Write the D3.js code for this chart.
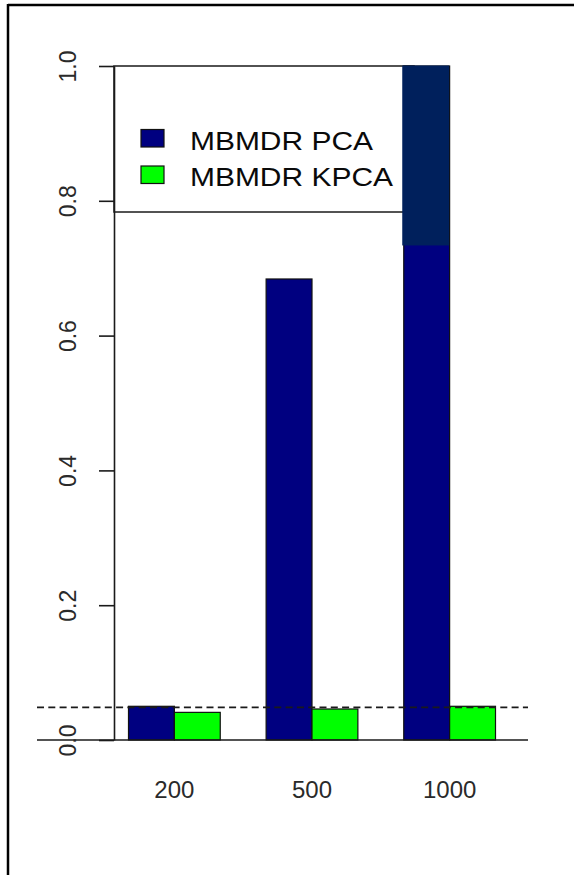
<!DOCTYPE html>
<html>
<head>
<meta charset="utf-8">
<script src="https://cdn.jsdelivr.net/npm/d3@7"></script>
<style>
  html, body { margin: 0; padding: 0; background: #fff; }
  svg { display: block; }
  text { font-family: "Liberation Sans", Arial, sans-serif; }
</style>
</head>
<body>
<svg id="chart" width="574" height="875"></svg>
<script>
// ---- data ----
const groups = ["200", "500", "1000"];
const series = ["MBMDR PCA", "MBMDR KPCA"];
const pcaValues = [0.05, 0.684, 1.0];
const kpcaValues = [0.041, 0.046, 0.05];
const yTicks = [0.0, 0.2, 0.4, 0.6, 0.8, 1.0];
const refLine = [0.05];
const colors = ["#000080", "#00ff00"];
// darker overlay patch seen on the top of the 1000 bar
const overlayPatch = [{ group: "1000", from: 0.733, to: 1.0 }];

const table = groups.map((g, i) => ({ group: g, values: [pcaValues[i], kpcaValues[i]] }));

const svg = d3.select("#chart");

// frame
svg.append("line").attr("x1", 8).attr("x2", 574).attr("y1", 5).attr("y2", 5)
  .attr("stroke", "#000").attr("stroke-width", 2.5);
svg.append("line").attr("x1", 8).attr("x2", 8).attr("y1", 4).attr("y2", 875)
  .attr("stroke", "#000").attr("stroke-width", 2.5);

// scales
const y = d3.scaleLinear().domain([0, 1]).range([740, 66]);
const x0 = d3.scaleBand().domain(groups).range([128.5, 495.5]).paddingInner(1 / 3).paddingOuter(0);
const x1 = d3.scaleBand().domain(series).range([0, x0.bandwidth()]);

const axisX = 114;
const lineCol = "#1a1a1a";

// legend box (behind the bars)
const legend = svg.append("g");
legend.append("rect")
  .attr("x", axisX).attr("y", y(1.0))
  .attr("width", 300).attr("height", 146)
  .attr("fill", "#fff").attr("stroke", lineCol).attr("stroke-width", 1.5);

// bars
const gBars = svg.append("g");
table.forEach(d => {
  d.values.forEach((v, j) => {
    gBars.append("rect")
      .attr("x", x0(d.group) + x1(series[j]))
      .attr("y", y(v))
      .attr("width", x1.bandwidth())
      .attr("height", y(0) - y(v))
      .attr("fill", colors[j])
      .attr("stroke", "#111")
      .attr("stroke-width", 1.2);
  });
});
overlayPatch.forEach(p => {
  gBars.append("rect")
    .attr("x", x0(p.group) + x1(series[0]) - 1.5)
    .attr("y", y(p.to) - 0.5)
    .attr("width", x1.bandwidth() + 1)
    .attr("height", y(p.from) - y(p.to))
    .attr("fill", "#00205c");
});

// legend content
const legItems = legend.selectAll("g.item").data(series).enter().append("g").attr("class", "item");
const legTop = [129.5, 166];
const legBase = [149.5, 186.2];
const legLen = [183, 203];
legItems.append("rect")
  .attr("x", 141).attr("y", (d, i) => legTop[i])
  .attr("width", 23).attr("height", 17.5)
  .attr("fill", (d, i) => colors[i]).attr("stroke", "#111").attr("stroke-width", 1.2);
legItems.append("text")
  .attr("x", 190).attr("y", (d, i) => legBase[i])
  .attr("font-size", 26.5).attr("fill", "#0a0a0a")
  .attr("textLength", (d, i) => legLen[i]).attr("lengthAdjust", "spacingAndGlyphs")
  .text(d => d);

// baseline and reference line
svg.append("line").attr("x1", 37).attr("x2", 528).attr("y1", y(0)).attr("y2", y(0))
  .attr("stroke", lineCol).attr("stroke-width", 1.7);
svg.selectAll("line.ref").data(refLine).enter().append("line").attr("class", "ref")
  .attr("x1", 37).attr("x2", 528).attr("y1", d => y(d) + 1).attr("y2", d => y(d) + 1)
  .attr("stroke", lineCol).attr("stroke-width", 1.8).attr("stroke-dasharray", "7,4.3");

// y axis
const yAxis = d3.axisLeft(y).tickValues(yTicks).tickFormat(d3.format(".1f"))
  .tickSize(15).tickSizeOuter(0);
const gy = svg.append("g").attr("transform", `translate(${axisX},0)`).call(yAxis);
gy.select(".domain").attr("stroke", lineCol).attr("stroke-width", 1.6);
gy.selectAll(".tick line").attr("stroke", lineCol).attr("stroke-width", 1.6);
gy.selectAll(".tick text")
  .attr("x", null).attr("dy", null)
  .attr("transform", "translate(-38,0) rotate(-90)")
  .attr("text-anchor", "middle")
  .attr("font-size", 23).attr("fill", "#2a2a2a")
  .attr("font-family", "'Liberation Sans', Arial, sans-serif");

// x labels
const xAxis = d3.axisBottom(x0).tickSize(0);
const gx = svg.append("g").attr("transform", `translate(0,${y(0)})`).call(xAxis);
gx.select(".domain").remove();
gx.selectAll(".tick text")
  .attr("y", 58).attr("dy", null)
  .attr("font-size", 24).attr("fill", "#2a2a2a")
  .attr("font-family", "'Liberation Sans', Arial, sans-serif");
</script>
</body>
</html>
